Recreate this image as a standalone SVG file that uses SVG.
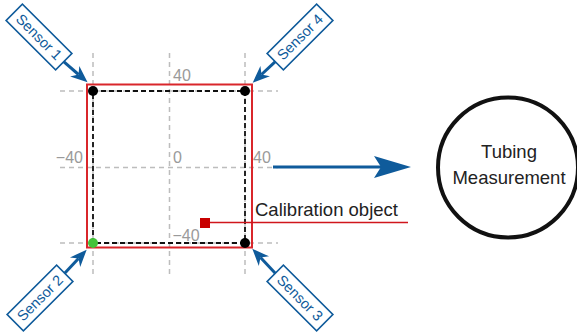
<svg xmlns="http://www.w3.org/2000/svg" width="577" height="333" viewBox="0 0 577 333">
<style>
.grid{stroke:#bdbdbd;stroke-width:1.5;stroke-dasharray:5 4;fill:none}
.lbl{font-family:"Liberation Sans",Arial,sans-serif;font-size:16px;fill:#9a9a9a}
.txt{font-family:"Liberation Sans",Arial,sans-serif;font-size:18.5px;fill:#222}
.sbox{fill:#fff;stroke:#0f5b9b;stroke-width:1.6}
.stxt{font-family:"Liberation Sans",Arial,sans-serif;font-size:14.5px;fill:#0f5b9b;text-anchor:middle}
.sarrow{stroke:#0f5b9b;stroke-width:3;fill:none}
</style>
<defs>
<marker id="bigHead" viewBox="-8 -12 40 24" markerWidth="40" markerHeight="24" refX="0" refY="0" markerUnits="userSpaceOnUse" orient="auto">
<path d="M30,0 L-7,-11 L0,0 L-7,11 Z" fill="#0f5b9b"/>
</marker>
<marker id="smallHead" viewBox="-6 -8 20 16" markerWidth="20" markerHeight="16" refX="0" refY="0" markerUnits="userSpaceOnUse" orient="auto">
<path d="M12,0 L-5,-7 L0,0 L-5,7 Z" fill="#0f5b9b"/>
</marker>
</defs>
<g id="grid">
<line class="grid" x1="93" y1="53" x2="93" y2="277"/>
<line class="grid" x1="169.5" y1="53" x2="169.5" y2="277"/>
<line class="grid" x1="245" y1="53" x2="245" y2="277"/>
<line class="grid" x1="60" y1="91" x2="278" y2="91"/>
<line class="grid" x1="60" y1="167.5" x2="278" y2="167.5"/>
<line class="grid" x1="60" y1="243" x2="278" y2="243"/>
<text class="lbl" x="173" y="81">40</text>
<text class="lbl" x="83" y="163" text-anchor="end">−40</text>
<text class="lbl" x="173" y="163">0</text>
<text class="lbl" x="253" y="163">40</text>
<text class="lbl" x="172.5" y="240.5">−40</text>
</g>
<g id="frame">
<rect x="87" y="84.5" width="165" height="163" fill="none" stroke="#d9262b" stroke-width="2"/>
<rect x="93" y="91" width="152" height="152" fill="none" stroke="#111" stroke-width="1.8" stroke-dasharray="5 3"/>
<circle cx="93" cy="91" r="5" fill="#000"/>
<circle cx="245" cy="91" r="5" fill="#000"/>
<circle cx="245" cy="243" r="5" fill="#000"/>
<circle cx="93" cy="243" r="5" fill="#44c43a"/>
</g>
<g id="calibration">
<rect x="200" y="218" width="10" height="10" fill="#c80000"/>
<text class="txt" x="255" y="216">Calibration object</text>
</g>
<g id="sensor1">
<rect class="sbox" x="-35" y="-11.5" width="70" height="23" transform="translate(39,37) rotate(45)"/>
<text class="stxt" x="0" y="5" transform="translate(39,37) rotate(45)">Sensor 1</text>
</g>
<g id="sensor4">
<rect class="sbox" x="-35" y="-11.5" width="70" height="23" transform="translate(300,37) rotate(-45)"/>
<text class="stxt" x="0" y="5" transform="translate(300,37) rotate(-45)">Sensor 4</text>
</g>
<g id="sensor2">
<rect class="sbox" x="-35" y="-11.5" width="70" height="23" transform="translate(40,298) rotate(-45)"/>
<text class="stxt" x="0" y="5" transform="translate(40,298) rotate(-45)">Sensor 2</text>
</g>
<g id="sensor3">
<rect class="sbox" x="-35" y="-11.5" width="70" height="23" transform="translate(300,298) rotate(45)"/>
<text class="stxt" x="0" y="5" transform="translate(300,298) rotate(45)">Sensor 3</text>
</g>
<g id="tubing">
<circle cx="508" cy="167.5" r="70" fill="#fff" stroke="#111" stroke-width="4"/>
<text class="txt" x="509" y="158" text-anchor="middle" font-size="19">Tubing</text>
<text class="txt" x="509" y="184" text-anchor="middle" font-size="19">Measurement</text>
</g>
<g id="connectors">
<line class="sarrow" x1="63.7" y1="61.7" x2="78.5" y2="74.5" marker-end="url(#smallHead)"/>
<line class="sarrow" x1="275.3" y1="61.7" x2="261.5" y2="74.5" marker-end="url(#smallHead)"/>
<line class="sarrow" x1="64.7" y1="273.3" x2="78.5" y2="258.5" marker-end="url(#smallHead)"/>
<line class="sarrow" x1="275.3" y1="273.3" x2="260.5" y2="257.5" marker-end="url(#smallHead)"/>
<line x1="273" y1="167" x2="381" y2="167" stroke="#0f5b9b" stroke-width="3" marker-end="url(#bigHead)"/>
<line x1="210" y1="222.5" x2="408" y2="222.5" stroke="#d0161c" stroke-width="1.6"/>
</g>
</svg>
